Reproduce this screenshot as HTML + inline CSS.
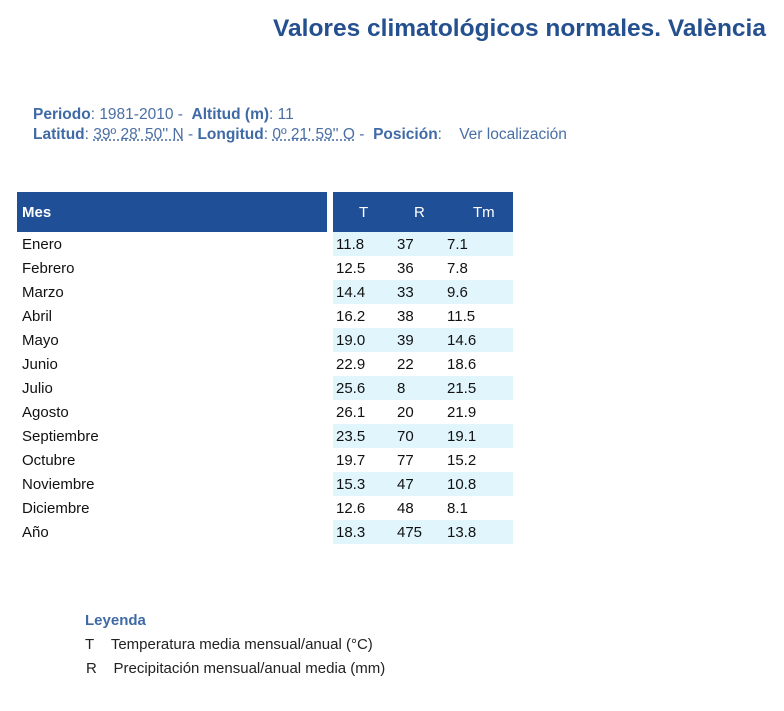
<!DOCTYPE html>
<html><head><meta charset="utf-8"><style>
body{margin:0;width:784px;height:711px;background:#fff;font-family:"Liberation Sans",sans-serif;position:relative;overflow:hidden}
.a{position:absolute;white-space:nowrap}
h1{position:absolute;right:18px;top:15px;margin:0;font-size:24.5px;color:#24508f;font-weight:bold}
.info{color:#4a6fa5;font-size:15.5px}
.info b{color:#3f6aa6}
.dot{text-decoration:underline dotted}
.hdr{position:absolute;background:#1f4f96;color:#fff;font-weight:bold;font-size:15px;height:40px;top:192px}
.row{position:absolute;height:24px;font-size:15px;color:#111;line-height:26px}
.bl{background:#e1f5fc}
</style></head><body>
<h1>Valores climatológicos normales. València</h1>
<div class="a info" style="left:33px;top:106px"><b>Periodo</b>: 1981-2010 - &nbsp;<b>Altitud (m)</b>: 11</div>
<div class="a info" style="left:33px;top:126px"><b>Latitud</b>: <span class="dot">39º 28' 50'' N</span> - <b>Longitud</b>: <span class="dot">0º 21' 59'' O</span> - &nbsp;<b>Posición</b>: &nbsp;&nbsp; Ver localización</div>
<div class="hdr" style="left:17px;width:310px"><span class="a" style="left:5px;top:12px">Mes</span></div>
<div class="hdr" style="left:333px;width:180px;font-weight:normal"><span class="a" style="left:26px;top:12px">T</span><span class="a" style="left:81px;top:12px">R</span><span class="a" style="left:140px;top:12px">Tm</span></div>
<div id="rows"></div>
<div class="a" style="left:85px;top:612px;color:#3f6aa6;font-weight:bold;font-size:15px">Leyenda</div>
<div class="a" style="left:85px;top:636px;font-size:15px;color:#222">T&nbsp;&nbsp;&nbsp;&nbsp;Temperatura media mensual/anual (°C)</div>
<div class="a" style="left:86px;top:660px;font-size:15px;color:#222">R&nbsp;&nbsp;&nbsp;&nbsp;Precipitación mensual/anual media (mm)</div>
<script>
var d=[["Enero","11.8","37","7.1"],["Febrero","12.5","36","7.8"],["Marzo","14.4","33","9.6"],["Abril","16.2","38","11.5"],["Mayo","19.0","39","14.6"],["Junio","22.9","22","18.6"],["Julio","25.6","8","21.5"],["Agosto","26.1","20","21.9"],["Septiembre","23.5","70","19.1"],["Octubre","19.7","77","15.2"],["Noviembre","15.3","47","10.8"],["Diciembre","12.6","48","8.1"],["Año","18.3","475","13.8"]];
var h="";d.forEach(function(r,i){var t=232+i*24;
h+='<div class="row" style="left:22px;top:'+t+'px">'+r[0]+'</div>';
h+='<div class="row'+(i%2==0?' bl':'')+'" style="left:333px;width:180px;top:'+t+'px"><span class="a" style="left:3px">'+r[1]+'</span><span class="a" style="left:64px">'+r[2]+'</span><span class="a" style="left:114px">'+r[3]+'</span></div>';});
document.getElementById("rows").innerHTML=h;
</script>
</body></html>
